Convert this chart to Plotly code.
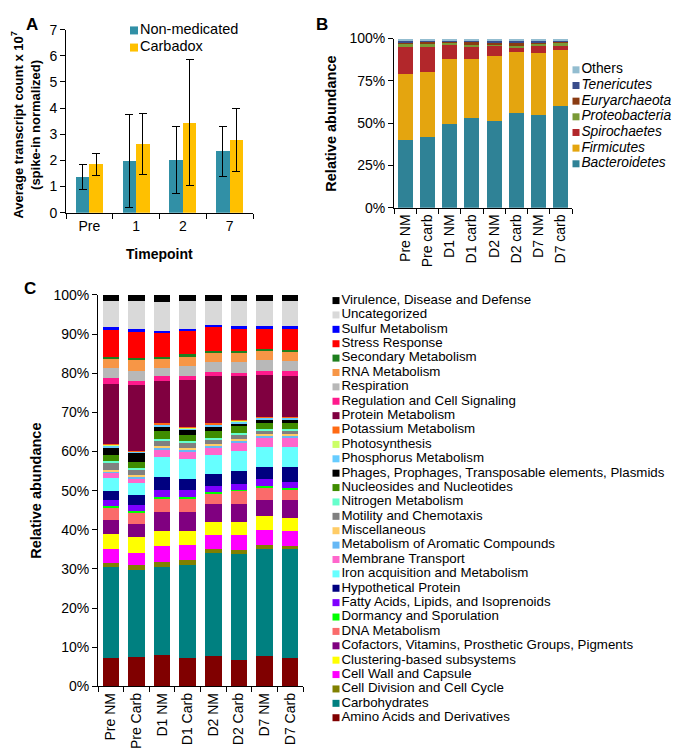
import plotly.graph_objects as go

FONT = "Arial, Liberation Sans, sans-serif"
W, H = 700, 753

# ---------------- Panel A data ----------------
timepoints = ["Pre", "1", "2", "7"]
nm_mean = [1.37, 1.97, 2.01, 2.35]
nm_err = [0.48, 1.77, 1.28, 0.95]
carb_mean = [1.85, 2.62, 3.45, 2.78]
carb_err = [0.42, 1.17, 2.42, 1.20]
a_series = ["Non-medicated", "Carbadox"]
a_colors = ["#3190A6", "#FFC000"]
a_yticks = [0, 1, 2, 3, 4, 5, 6, 7]

# ---------------- Panel B data ----------------
samples_b = ["Pre NM", "Pre carb", "D1 NM", "D1 carb", "D2 NM", "D2 carb", "D7 NM", "D7 carb"]
phyla = ["Bacteroidetes", "Firmicutes", "Spirochaetes", "Proteobacteria",
         "Euryarchaeota", "Tenericutes", "Others"]
bacteroidetes = [40.1, 42.0, 49.8, 53.1, 51.5, 56.3, 55.0, 60.3]
firmicutes = [38.7, 38.3, 38.0, 34.7, 38.2, 35.5, 36.4, 33.2]
spirochaetes = [15.9, 14.9, 8.2, 7.2, 5.7, 3.4, 4.2, 2.9]
proteobacteria = [2.1, 2.3, 2.1, 1.6, 1.6, 1.0, 1.5, 0.7]
euryarchaeota = [1.3, 1.0, 0.6, 1.1, 1.1, 0.9, 1.0, 1.6]
tenericutes = [0.6, 0.5, 0.3, 1.2, 0.7, 1.9, 0.8, 0.4]
others = [1.3, 1.0, 1.0, 1.1, 1.2, 1.0, 1.1, 0.9]
phyla_colors = ["#2F8296", "#E4A50F", "#B2272B", "#7A9A36", "#8A3B12", "#394D8B", "#93BDD0"]
phyla_italic = [True, True, True, True, True, True, False]
b_yticks = [0, 25, 50, 75, 100]
b_yticklabels = ["0%", "25%", "50%", "75%", "100%"]

# ---------------- Panel C data ----------------
samples_c = ["Pre NM", "Pre Carb", "D1 NM", "D1 Carb", "D2 NM", "D2 Carb", "D7 NM", "D7 Carb"]
# bottom of stack -> top of stack
subsystems = [
    "Amino Acids and Derivatives", "Carbohydrates", "Cell Division and Cell Cycle",
    "Cell Wall and Capsule", "Clustering-based subsystems",
    "Cofactors, Vitamins, Prosthetic Groups, Pigments", "DNA Metabolism",
    "Dormancy and Sporulation", "Fatty Acids, Lipids, and Isoprenoids",
    "Hypothetical Protein", "Iron acquisition and Metabolism", "Membrane Transport",
    "Metabolism of Aromatic Compounds", "Miscellaneous", "Motility and Chemotaxis",
    "Nitrogen Metabolism", "Nucleosides and Nucleotides",
    "Phages, Prophages, Transposable elements, Plasmids", "Phosphorus Metabolism",
    "Photosynthesis", "Potassium Metabolism", "Protein Metabolism",
    "Regulation and Cell Signaling", "Respiration", "RNA Metabolism",
    "Secondary Metabolism", "Stress Response", "Sulfur Metabolism",
    "Uncategorized", "Virulence, Disease and Defense",
]
subsystem_colors = [
    "#800000", "#008080", "#808000", "#FF00FF", "#FFFF00",
    "#800080", "#FA6B6B", "#00FF00", "#7F00FF",
    "#000080", "#66FFFF", "#FF66CC",
    "#66B8F5", "#FFCC66", "#808080",
    "#66FFCC", "#3F8C00",
    "#000000", "#66CCFF",
    "#CCFF66", "#FF6A13", "#800040",
    "#FF1A8C", "#B8B8B8", "#F79646",
    "#1E7F1E", "#FF0000", "#0000FF",
    "#D9D9D9", "#000000",
]
pre_nm = [7.2, 23.4, 1.0, 3.6, 3.7, 3.6, 3.2, 0.3, 1.7, 2.3, 3.3, 1.3, 0.4, 0.4, 1.7,
          0.4, 1.7, 1.9, 0.5, 0.1, 0.1, 15.45, 1.5, 2.65, 2.35, 0.35, 7.15, 0.5, 6.75, 1.5]
pre_carb = [7.4, 22.4, 1.1, 3.3, 3.9, 3.3, 3.1, 0.3, 1.6, 2.5, 3.0, 1.2, 0.5, 0.3, 1.5,
            0.4, 1.5, 2.45, 0.25, 0.1, 0.1, 16.7, 1.2, 2.6, 2.8, 0.3, 7.0, 0.5, 7.2, 1.5]
d1_nm = [8.1, 22.5, 1.2, 4.2, 3.6, 4.9, 3.6, 0.3, 1.85, 3.25, 5.0, 1.9, 0.6, 0.4, 1.5,
         0.4, 1.9, 1.05, 0.65, 0.1, 0.3, 10.6, 1.35, 2.15, 2.35, 0.35, 6.1, 0.7, 7.35, 1.75]
d1_carb = [7.25, 23.85, 1.2, 3.95, 3.45, 4.9, 3.3, 0.4, 1.9, 2.9, 5.0, 1.9, 0.6, 0.4, 1.25,
           0.45, 1.6, 1.1, 0.6, 0.1, 0.2, 11.9, 1.2, 2.4, 2.5, 0.5, 5.9, 0.7, 7.1, 1.5]
d2_nm = [7.7, 26.3, 1.0, 3.6, 3.3, 4.6, 2.9, 0.3, 1.55, 3.05, 4.9, 1.8, 0.6, 0.4, 1.1,
         0.4, 1.7, 1.05, 0.55, 0.1, 0.3, 12.0, 1.0, 2.7, 2.35, 0.45, 6.0, 0.55, 6.25, 1.5]
d2_carb = [6.8, 26.95, 1.05, 3.8, 3.3, 4.7, 3.4, 0.3, 1.3, 3.4, 5.25, 2.0, 0.65, 0.4, 1.0,
           0.45, 1.65, 0.85, 0.5, 0.1, 0.1, 11.25, 0.9, 2.8, 2.35, 0.35, 5.8, 0.6, 6.5, 1.5]
d7_nm = [7.8, 27.4, 1.05, 3.75, 3.6, 4.15, 3.05, 0.3, 1.8, 3.2, 5.15, 2.15, 0.6, 0.4, 1.0,
         0.4, 1.5, 0.9, 0.4, 0.1, 0.1, 10.8, 1.0, 2.9, 2.3, 0.45, 5.25, 0.5, 6.5, 1.5]
d7_carb = [7.25, 27.75, 0.9, 3.7, 3.3, 4.6, 2.9, 0.3, 1.6, 3.8, 5.15, 2.25, 0.5, 0.4, 0.9,
           0.45, 1.55, 0.9, 0.4, 0.1, 0.1, 10.6, 1.2, 2.6, 2.4, 0.4, 5.4, 0.6, 6.5, 1.5]
c_columns = [pre_nm, pre_carb, d1_nm, d1_carb, d2_nm, d2_carb, d7_nm, d7_carb]
c_yticks = [0, 10, 20, 30, 40, 50, 60, 70, 80, 90, 100]
c_yticklabels = ["0%", "10%", "20%", "30%", "40%", "50%", "60%", "70%", "80%", "90%", "100%"]


def px_x(p):
    return p / W


def px_y(p):
    return 1 - p / H


fig = go.Figure()

# ---- Panel A bars ----
for name, means, errs, col in zip(a_series, [nm_mean, carb_mean], [nm_err, carb_err], a_colors):
    fig.add_trace(go.Bar(
        x=timepoints, y=means, name=name, marker=dict(color=col, line=dict(width=0)),
        offsetgroup=name,
        error_y=dict(type="data", array=errs, color="black", thickness=1, width=4),
        xaxis="x", yaxis="y", showlegend=False, hoverinfo="skip",
    ))

# ---- Panel B stacked bars ----
b_values = [bacteroidetes, firmicutes, spirochaetes, proteobacteria, euryarchaeota, tenericutes, others]
for name, vals, col in zip(phyla, b_values, phyla_colors):
    fig.add_trace(go.Bar(
        x=samples_b, y=vals, name=name, width=0.68,
        marker=dict(color=col, line=dict(width=0)),
        xaxis="x2", yaxis="y2", showlegend=False, hoverinfo="skip",
    ))

# ---- Panel C stacked bars ----
for i, (name, col) in enumerate(zip(subsystems, subsystem_colors)):
    vals = [colvals[i] for colvals in c_columns]
    fig.add_trace(go.Bar(
        x=samples_c, y=vals, name=name, width=0.645,
        marker=dict(color=col, line=dict(width=0)),
        xaxis="x3", yaxis="y3", showlegend=False, hoverinfo="skip",
    ))

# ---- Legend A (drawn as scatter on a hidden axis) ----
fig.add_trace(go.Scatter(
    x=[0] * len(a_series), y=list(range(len(a_series))), mode="markers+text",
    marker=dict(symbol="square", size=8, color=a_colors),
    text=a_series, textposition="middle right",
    textfont=dict(family=FONT, size=14.5, color="black"),
    xaxis="x4", yaxis="y4", showlegend=False, hoverinfo="skip", cliponaxis=False,
))

# ---- Legend B ----
b_leg_names = phyla[::-1]
b_leg_cols = phyla_colors[::-1]
b_leg_text = [f"<i>{n}</i>" if it else n for n, it in zip(b_leg_names, phyla_italic[::-1])]
fig.add_trace(go.Scatter(
    x=[0] * len(b_leg_names), y=list(range(len(b_leg_names))), mode="markers+text",
    marker=dict(symbol="square", size=7, color=b_leg_cols),
    text=b_leg_text, textposition="middle right",
    textfont=dict(family=FONT, size=13.8, color="black"),
    xaxis="x5", yaxis="y5", showlegend=False, hoverinfo="skip", cliponaxis=False,
))

# ---- Legend C ----
c_leg_names = subsystems[::-1]
c_leg_cols = subsystem_colors[::-1]
fig.add_trace(go.Scatter(
    x=[0] * len(c_leg_names), y=list(range(len(c_leg_names))), mode="markers+text",
    marker=dict(symbol="square", size=7, color=c_leg_cols),
    text=c_leg_names, textposition="middle right",
    textfont=dict(family=FONT, size=13.3, color="black"),
    xaxis="x6", yaxis="y6", showlegend=False, hoverinfo="skip", cliponaxis=False,
))

tickfont = dict(family=FONT, size=14, color="black")
axis_common = dict(showline=True, linecolor="black", linewidth=1, ticks="outside",
                   ticklen=5, tickcolor="black", tickwidth=1, showgrid=False,
                   zeroline=False, tickfont=tickfont)
hidden = dict(visible=False, showgrid=False, zeroline=False, fixedrange=True)

fig.update_layout(
    width=W, height=H, margin=dict(l=0, r=0, t=0, b=0),
    paper_bgcolor="white", plot_bgcolor="white",
    barmode="stack", bargap=0.42, bargroupgap=0,
    showlegend=False,
    font=dict(family=FONT, color="black"),
    xaxis=dict(domain=[px_x(58), px_x(245)], anchor="y", type="category",
               tickson="boundaries", **axis_common),
    yaxis=dict(domain=[px_y(201), px_y(14)], anchor="x", range=[0, 7],
               tickvals=a_yticks, **axis_common),
    xaxis2=dict(domain=[px_x(386), px_x(564)], anchor="y2", type="category",
                tickson="boundaries", tickangle=-90, **axis_common),
    yaxis2=dict(domain=[px_y(196), px_y(23)], anchor="x2", range=[0, 100],
                tickmode="array", tickvals=b_yticks, ticktext=b_yticklabels, **axis_common),
    xaxis3=dict(domain=[px_x(90), px_x(295)], anchor="y3", type="category",
                tickson="boundaries", tickangle=-90, **axis_common),
    yaxis3=dict(domain=[px_y(685), px_y(285)], anchor="x3", range=[0, 100],
                tickmode="array", tickvals=c_yticks, ticktext=c_yticklabels, **axis_common),
    xaxis4=dict(domain=[px_x(126), px_x(300)], anchor="y4", range=[0, 1], **hidden),
    yaxis4=dict(domain=[px_y(41), px_y(6)], anchor="x4", range=[1.5, -0.5], **hidden),
    xaxis5=dict(domain=[px_x(568), px_x(699)], anchor="y5", range=[0, 1], **hidden),
    yaxis5=dict(domain=[px_y(159), px_y(47)], anchor="x5", range=[6.5, -0.5], **hidden),
    xaxis6=dict(domain=[px_x(328), px_x(699)], anchor="y6", range=[0, 1], **hidden),
    yaxis6=dict(domain=[px_y(724.3), px_y(283.4)], anchor="x6", range=[29.5, -0.5], **hidden),
)

ann = []


def add_ann(text, x, y, size, angle=0, bold=True):
    ann.append(dict(text=f"<b>{text}</b>" if bold else text, x=px_x(x), y=px_y(y),
                    xref="paper", yref="paper", showarrow=False, textangle=angle,
                    font=dict(family=FONT, size=size, color="black"),
                    xanchor="center", yanchor="middle"))


add_ann("A", 24, 9, 17)
add_ann("B", 314, 9, 17)
add_ann("C", 22, 278, 17)
add_ann("Average transcript count x 10<sup>7</sup><br>(spike-in normalized)", 18, 112, 13, -90)
add_ann("Timepoint", 151, 243, 14)
add_ann("Relative abundance", 323, 110, 14.5, -90)
add_ann("Relative abundance", 28, 485, 14.5, -90)
fig.update_layout(annotations=ann)

fig.write_html("out.html")
